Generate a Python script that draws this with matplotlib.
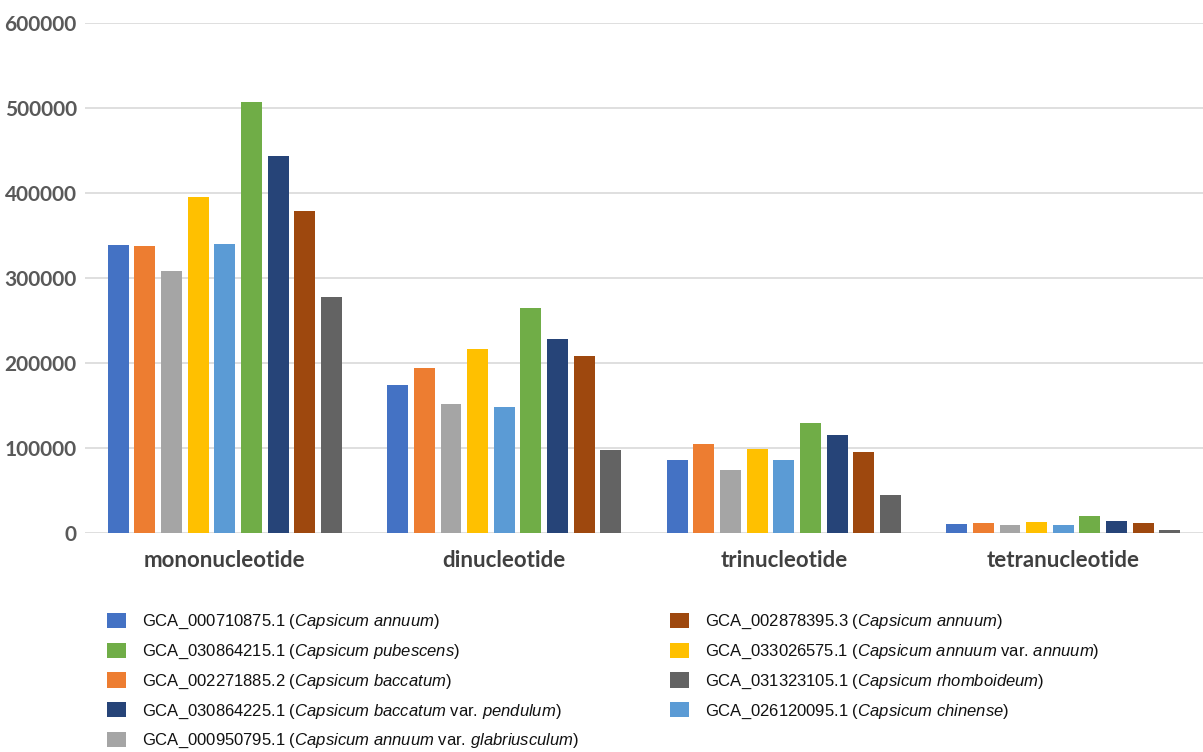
import numpy as np
import matplotlib
matplotlib.use("Agg")
import matplotlib.pyplot as plt
from matplotlib.patches import Patch

plt.rcParams.update({
    "mathtext.fontset": "custom",
    "mathtext.rm": "Liberation Sans",
    "mathtext.it": "Liberation Sans:italic",
})

categories = ["mononucleotide", "dinucleotide", "trinucleotide", "tetranucleotide"]

# series in bar order within each group
series_names = [
    r"GCA_000710875.1 ($\it{Capsicum\ annuum}$)",
    r"GCA_002271885.2 ($\it{Capsicum\ baccatum}$)",
    r"GCA_000950795.1 ($\it{Capsicum\ annuum}$ var. $\it{glabriusculum}$)",
    r"GCA_033026575.1 ($\it{Capsicum\ annuum}$ var. $\it{annuum}$)",
    r"GCA_026120095.1 ($\it{Capsicum\ chinense}$)",
    r"GCA_030864215.1 ($\it{Capsicum\ pubescens}$)",
    r"GCA_030864225.1 ($\it{Capsicum\ baccatum}$ var. $\it{pendulum)}$",
    r"GCA_002878395.3 ($\it{Capsicum\ annuum}$)",
    r"GCA_031323105.1 ($\it{Capsicum\ rhomboideum}$)",
]
series_colors = ["#4472C4", "#ED7D31", "#A5A5A5", "#FFC000", "#5B9BD5",
                 "#70AD47", "#264478", "#9E480E", "#636363"]

values = [
    [339000, 174000, 86000, 10700],
    [338000, 194000, 104500, 11500],
    [308000, 152000, 74000, 9500],
    [395500, 217000, 98500, 12600],
    [340500, 148000, 86500, 9900],
    [507000, 265000, 130000, 20200],
    [444000, 228000, 116000, 14200],
    [379500, 208000, 95300, 11900],
    [278000, 98000, 44700, 3600],
]

# legend columns as laid out under the chart
legend_left = [0, 5, 1, 6, 2]
legend_right = [7, 3, 8, 4]

fig = plt.figure(figsize=(12.03, 7.52), dpi=100)
ax = fig.add_axes([0.0707, 0.291, 0.9293, 0.678])

n = len(series_names)
slot = 0.0953
bw = 0.075
x = np.arange(len(categories))
for i in range(n):
    offs = (i - (n - 1) / 2) * slot
    ax.bar(x + offs, values[i], width=bw, color=series_colors[i], edgecolor="none", zorder=3)

ax.set_xlim(-0.5, len(categories) - 0.5)
ax.set_ylim(0, 600000)
ax.set_yticks(np.arange(0, 600001, 100000))
ax.set_yticklabels([str(v) for v in range(0, 600001, 100000)],
                   fontfamily="Lato", fontweight="bold", fontsize=15, color="#595959")
ax.set_xticks(x)
ax.set_xticklabels(categories, fontfamily="Lato", fontweight="bold", fontsize=16, color="#404040")
ax.tick_params(axis="both", length=0)
ax.tick_params(axis="x", pad=12)
ax.tick_params(axis="y", pad=6)
ax.grid(True, axis="y", color="#d9d9d9", linewidth=1.2, zorder=0)
for s in ax.spines.values():
    s.set_visible(False)


def add_legend(idx, x0):
    handles = [Patch(facecolor=series_colors[i], edgecolor="none") for i in idx]
    labels = [series_names[i] for i in idx]
    leg = fig.legend(handles, labels, loc="upper left", bbox_to_anchor=(x0, 1 - 613 / 752),
                     frameon=False, fontsize=12, borderpad=0, borderaxespad=0,
                     handlelength=1.14, handleheight=1.02, handletextpad=0.95,
                     labelspacing=0.68)
    for t in leg.get_texts():
        t.set_fontfamily("Liberation Sans")
        t.set_color("#111111")
    return leg


add_legend(legend_left, 107 / 1203)
add_legend(legend_right, 670 / 1203)

fig.savefig("out.png", dpi=100)
